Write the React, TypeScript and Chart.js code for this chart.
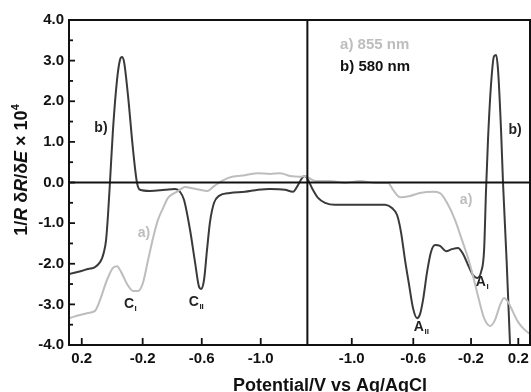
import React, { useEffect, useRef } from "react";
import { Chart, registerables } from "chart.js";

Chart.register(...registerables);

// Sweep coordinate: volts traversed from the start of the scan (≈0.28 V → ≈-1.31 V → back)
const sweepMax = 3.073;
const switchPoint = 1.589;
const xTickPositions = [0.085, 0.491, 0.885, 1.278, 1.885, 2.295, 2.68, 2.995];
const xTickLabels = ["0.2", "-0.2", "-0.6", "-1.0", "-1.0", "-0.6", "-0.2", "0.2"];
const yTickValues = [4, 3, 2, 1, 0, -1, -2, -3, -4];

// b) 580 nm
const sweepB = [
  0.0, 0.107, 0.207, 0.233, 0.247, 0.26, 0.273, 0.293, 0.32, 0.34, 0.353, 0.367, 0.393, 0.427, 0.453,
  0.473, 0.54, 0.64, 0.707, 0.74, 0.767, 0.807, 0.84, 0.867, 0.88, 0.9, 0.92, 0.94, 0.967, 1.0,
  1.073, 1.173, 1.26, 1.34, 1.44, 1.493, 1.527, 1.553, 1.573,
  1.587, 1.62, 1.66, 1.707, 1.773, 1.94, 2.107, 2.153, 2.187, 2.213, 2.24, 2.267, 2.293, 2.32, 2.34,
  2.36, 2.387, 2.413, 2.44, 2.473, 2.513, 2.553, 2.593, 2.627, 2.66, 2.693, 2.72, 2.747, 2.767, 2.78,
  2.793, 2.813, 2.833, 2.847, 2.86, 2.88, 2.893, 2.917, 2.94, 2.947,
];
const valuesB = [
  -2.25, -2.15, -1.96, -1.71, -1.42, -0.8, 0.0, 1.29, 2.52, 3.02, 3.09, 2.97, 2.15, 0.8, 0.0,
  -0.18, -0.21, -0.18, -0.16, -0.23, -0.43, -1.17, -1.96, -2.57, -2.62, -2.4, -1.66, -0.97, -0.5, -0.33,
  -0.26, -0.23, -0.18, -0.16, -0.18, -0.23, -0.06, 0.11, 0.16,
  0.11, -0.14, -0.38, -0.5, -0.55, -0.55, -0.55, -0.63, -0.8, -1.22, -1.91, -2.52, -3.09, -3.34, -3.24,
  -2.89, -2.2, -1.71, -1.54, -1.56, -1.69, -1.64, -1.61, -1.76, -2.03, -2.28, -2.35, -2.2, -1.66, -0.18,
  1.05, 2.4, 3.11, 3.14, 2.77, 1.29, 0.0, -1.91, -4.0, -4.6,
];

// a) 855 nm
const sweepA = [
  0.0, 0.073, 0.127, 0.173, 0.207, 0.253, 0.293, 0.32, 0.347, 0.387, 0.427, 0.46, 0.493, 0.527, 0.56,
  0.593, 0.627, 0.66, 0.693, 0.727, 0.773, 0.82, 0.873, 0.92, 0.967, 1.02, 1.087, 1.173, 1.26, 1.34,
  1.407, 1.473, 1.54, 1.573,
  1.587, 1.64, 1.74, 1.84, 1.94, 2.04, 2.127, 2.16, 2.207, 2.273, 2.34, 2.427, 2.473, 2.527, 2.573,
  2.62, 2.66, 2.7, 2.733, 2.767, 2.807, 2.84, 2.873, 2.9, 2.927, 2.96, 2.993, 3.033, 3.073,
];
const valuesA = [
  -3.34, -3.26, -3.21, -3.16, -2.89, -2.4, -2.1, -2.06, -2.2, -2.5, -2.67, -2.67, -2.47, -1.91, -1.37,
  -0.92, -0.63, -0.38, -0.28, -0.21, -0.11, -0.14, -0.18, -0.21, -0.09, 0.04, 0.14, 0.18, 0.23, 0.21,
  0.23, 0.16, 0.14, 0.16,
  0.14, 0.04, 0.04, -0.01, 0.04, -0.01, -0.01, -0.18, -0.36, -0.33, -0.26, -0.23, -0.26, -0.55, -0.92,
  -1.42, -1.86, -2.4, -2.89, -3.34, -3.53, -3.38, -3.02, -2.84, -2.94, -3.19, -3.43, -3.61, -3.73,
];

const colorA = "#bdbdbd";
const colorB = "#3a3a3a";
const FONT = "'Liberation Sans', Arial, Helvetica, sans-serif";

// annotations: [text, subscript, sweep, value, color]
const annotationTexts = ["b)", "a)", "C", "C", "A", "A", "a)", "b)"];
const annotationSubs = ["", "", "I", "II", "II", "I", "", ""];
const annotationSweep = [0.213, 0.5, 0.407, 0.847, 2.347, 2.753, 2.647, 2.973];
const annotationValue = [1.34, -1.24, -2.99, -2.94, -3.56, -2.45, -0.43, 1.29];
const annotationIsA = [false, true, false, false, false, false, true, false];

const legendLabels = ["a) 855 nm", "b) 580 nm"];
const legendSweep = 1.807;
const legendValues = [3.38, 2.84];

const overlay = {
  id: "overlay",
  afterDatasetsDraw(chart: any) {
    const { ctx, chartArea: a, scales } = chart;
    const xs = scales.x;
    const ys = scales.y;
    ctx.save();
    ctx.strokeStyle = "#111";
    ctx.lineWidth = 2;
    const line = (x1: number, y1: number, x2: number, y2: number) => {
      ctx.beginPath();
      ctx.moveTo(x1, y1);
      ctx.lineTo(x2, y2);
      ctx.stroke();
    };
    const y0 = ys.getPixelForValue(0);
    line(a.left, y0, a.right, y0);
    const xsw = xs.getPixelForValue(switchPoint);
    line(xsw, a.top, xsw, a.bottom);
    ctx.strokeRect(a.left, a.top, a.right - a.left, a.bottom - a.top);

    // y ticks (inward)
    ctx.lineWidth = 1.8;
    for (let i = 0; i < yTickValues.length; i++) {
      const py = ys.getPixelForValue(yTickValues[i]);
      line(a.left, py, a.left + 6, py);
      if (i < yTickValues.length - 1) {
        const pm = ys.getPixelForValue(yTickValues[i] - 0.5);
        line(a.left, pm, a.left + 4, pm);
      }
    }
    // x ticks (inward)
    for (const t of xTickPositions) {
      const px = xs.getPixelForValue(t);
      line(px, a.bottom, px, a.bottom - 7);
    }

    // tick labels
    ctx.fillStyle = "#111";
    ctx.font = `bold 15px ${FONT}`;
    ctx.textAlign = "right";
    ctx.textBaseline = "middle";
    for (const v of yTickValues) {
      ctx.fillText(v.toFixed(1), a.left - 5, ys.getPixelForValue(v));
    }
    ctx.textAlign = "center";
    ctx.textBaseline = "top";
    xTickPositions.forEach((t, i) => {
      ctx.fillText(xTickLabels[i], xs.getPixelForValue(t), a.bottom + 6);
    });

    // x title
    ctx.font = `bold 18px ${FONT}`;
    ctx.textBaseline = "alphabetic";
    ctx.fillText("Potential/V vs Ag/AgCl", 330, 391);

    // y title with mixed styles
    const parts: [string, boolean, boolean][] = [
      ["1/", false, false],
      ["R", true, false],
      [" δ", false, false],
      ["R", true, false],
      ["/δ", false, false],
      ["E", true, false],
      [" × 10", false, false],
      ["4", false, true],
    ];
    const fontFor = (it: boolean, sup: boolean) =>
      `${it ? "italic " : ""}bold ${sup ? 11 : 18}px ${FONT}`;
    let total = 0;
    for (const [s, it, sup] of parts) {
      ctx.font = fontFor(it, sup);
      total += ctx.measureText(s).width;
    }
    ctx.save();
    ctx.translate(27, 170);
    ctx.rotate(-Math.PI / 2);
    ctx.textAlign = "left";
    let cx = -total / 2;
    for (const [s, it, sup] of parts) {
      ctx.font = fontFor(it, sup);
      ctx.fillText(s, cx, sup ? -8 : 0);
      cx += ctx.measureText(s).width;
    }
    ctx.restore();

    // annotations
    ctx.textBaseline = "middle";
    annotationTexts.forEach((txt, i) => {
      const px = xs.getPixelForValue(annotationSweep[i]);
      const py = ys.getPixelForValue(annotationValue[i]);
      ctx.fillStyle = annotationIsA[i] ? colorA : "#222";
      ctx.font = `bold 14px ${FONT}`;
      const w = ctx.measureText(txt).width;
      const sub = annotationSubs[i];
      ctx.font = `bold 8px ${FONT}`;
      const sw = sub ? ctx.measureText(sub).width : 0;
      const start = px - (w + sw) / 2;
      ctx.textAlign = "left";
      ctx.font = `bold 14px ${FONT}`;
      ctx.fillText(txt, start, py);
      if (sub) {
        ctx.font = `bold 8px ${FONT}`;
        ctx.fillText(sub, start + w + 0.5, py + 5);
      }
    });

    // legend
    ctx.font = `bold 15px ${FONT}`;
    ctx.textAlign = "left";
    legendLabels.forEach((l, i) => {
      ctx.fillStyle = i === 0 ? colorA : "#111";
      ctx.fillText(l, xs.getPixelForValue(legendSweep), ys.getPixelForValue(legendValues[i]));
    });
    ctx.restore();
  },
};

export default function App() {
  const ref = useRef<HTMLCanvasElement | null>(null);
  useEffect(() => {
    if (!ref.current) return;
    const chart = new Chart(ref.current, {
      type: "line",
      data: {
        datasets: [
          {
            label: "a) 855 nm",
            data: sweepA.map((x, i) => ({ x, y: valuesA[i] })),
            borderColor: colorA,
            borderWidth: 2,
            pointRadius: 0,
            cubicInterpolationMode: "monotone",
            fill: false,
          },
          {
            label: "b) 580 nm",
            data: sweepB.map((x, i) => ({ x, y: valuesB[i] })),
            borderColor: colorB,
            borderWidth: 2,
            pointRadius: 0,
            cubicInterpolationMode: "monotone",
            fill: false,
          },
        ],
      },
      options: {
        animation: false,
        responsive: false,
        maintainAspectRatio: false,
        devicePixelRatio: 1,
        layout: { padding: { left: 69, top: 20, right: 1, bottom: 47 } },
        plugins: { legend: { display: false }, tooltip: { enabled: false } },
        scales: {
          x: { type: "linear", min: 0, max: sweepMax, display: false },
          y: { type: "linear", min: -4, max: 4, display: false },
        },
      },
      plugins: [overlay],
    } as any);
    return () => chart.destroy();
  }, []);
  return (
    <div style={{ position: "fixed", left: 0, top: 0, width: 531, height: 392, background: "#fff" }}>
      <canvas ref={ref} width={531} height={392} style={{ width: 531, height: 392 }} />
    </div>
  );
}
